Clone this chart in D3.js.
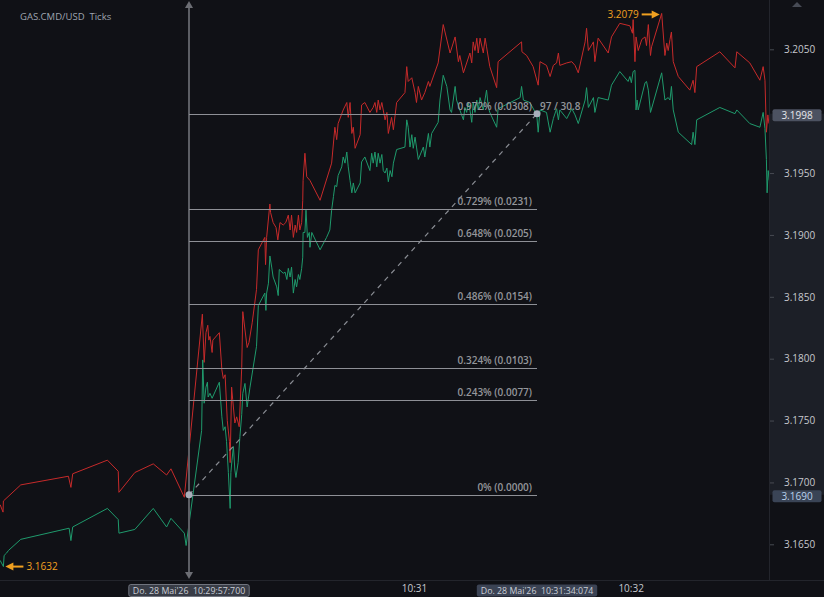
<!DOCTYPE html>
<html><head><meta charset="utf-8">
<script src="https://cdn.jsdelivr.net/npm/d3@7"></script>
<style>html,body{margin:0;padding:0;background:#101116;overflow:hidden}</style>
</head><body>
<svg id="c" width="824" height="597"></svg>
<script>
// ---------- data ----------
const chartTitle = "GAS.CMD/USD  Ticks";
// [seconds after 10:29:00, price]
const askTicks = [[5.4,3.1682],[6.2,3.1676],[6.3,3.1685],[11.1,3.1698],[24.3,3.1705],[25.0,3.1696],[25.5,3.1707],[35.1,3.1718],[38.1,3.1709],[38.3,3.1692],[42.7,3.1708],[47.8,3.1715],[51.5,3.1706],[52.7,3.1711],[56.4,3.1688],
[61.4,3.1836],[61.9,3.1797],[62.4,3.1821],[62.9,3.1827],[63.2,3.1815],[63.5,3.1818],[64.1,3.1805],[64.3,3.1815],[66.1,3.1821],[66.8,3.1791],[67.2,3.1784],[67.7,3.1787],[68.3,3.1750],[68.9,3.1733],[69.1,3.1716],[69.5,3.1777],[69.8,3.1767],[70.4,3.1748],[70.9,3.1753],[71.6,3.1745],[72.3,3.1793],[72.6,3.1838],[73.8,3.1809],[74.3,3.1813],[75.2,3.1829],[76.4,3.1856],[76.9,3.1888],[78.7,3.1898],[78.9,3.1876],[79.2,3.1898],[80.1,3.1925],[80.3,3.1918],[81.0,3.1910],[81.8,3.1906],[82.3,3.1896],[82.9,3.1910],[83.8,3.1908],[84.5,3.1910],[85.2,3.1916],[85.7,3.1904],[86.1,3.1916],[86.6,3.1898],[87.1,3.1908],[87.5,3.1902],[88.0,3.1916],[88.4,3.1904],[88.9,3.1910],[89.2,3.1928],[89.3,3.1944],[89.8,3.1966],[90.3,3.1947],[91.2,3.1944],[94.0,3.1928],[97.2,3.1958],[98.1,3.1987],[98.6,3.1977],[99.0,3.1990],[100.4,3.2001],[101.4,3.2007],[101.8,3.1995],[102.3,3.2007],[102.8,3.1982],[103.2,3.1987],[103.7,3.1970],[105.1,3.1981],[105.5,3.2005],[106.4,3.2007],[107.8,3.1999],[108.7,3.2003],[109.2,3.2007],[109.7,3.1999],[110.1,3.2009],[110.6,3.2001],[111.1,3.2007],[112.0,3.1993],[112.5,3.1999],[112.9,3.1982],[113.8,3.1995],[114.3,3.1985],[115.2,3.2007],[117.5,3.2015],[118.0,3.2036],[118.4,3.2024],[119.4,3.2027],[120.3,3.2015],[120.7,3.2007],[121.2,3.2020],[122.1,3.2009],[123.0,3.2015],[124.0,3.2024],[124.4,3.2020],[126.7,3.2039],[128.1,3.2070],[130.0,3.2047],[131.4,3.2060],[132.3,3.2040],[132.7,3.2045],[133.7,3.2031],[135.5,3.2047],[136.0,3.2039],[136.4,3.2056],[136.9,3.2049],[137.4,3.2059],[137.8,3.2047],[138.3,3.2059],[139.2,3.2047],[139.7,3.2059],[140.1,3.2052],[141.0,3.2036],[142.9,3.2019],[143.3,3.2040],[149.8,3.2056],[149.9,3.2048],[151.2,3.2045],[153.0,3.2036],[154.4,3.2021],[154.9,3.2040],[156.7,3.2037],[157.7,3.2028],[158.6,3.2037],[159.5,3.2039],[160.0,3.2047],[160.4,3.2037],[162.3,3.2039],[163.7,3.2040],[164.6,3.2037],[165.5,3.2031],[167.4,3.2056],[167.8,3.2067],[168.3,3.2049],[169.7,3.2056],[170.1,3.2040],[171.0,3.2059],[173.8,3.2047],[174.7,3.2060],[177.0,3.2071],[179.8,3.2069],[180.5,3.2063],[180.7,3.2074],[181.2,3.2040],[181.5,3.2060],[182.1,3.2049],[183.1,3.2058],[184.0,3.2060],[184.4,3.2053],[184.9,3.2070],[185.5,3.2045],[185.8,3.2052],[188.6,3.2079],[189.5,3.2045],[190.0,3.2055],[190.4,3.2049],[190.9,3.2058],[191.3,3.2064],[191.8,3.2040],[193.2,3.2028],[196.4,3.2017],[197.3,3.2025],[197.8,3.2015],[198.3,3.2036],[204.7,3.2048],[208.9,3.2035],[209.4,3.2048],[213.0,3.2039],[215.8,3.2025],[216.7,3.2036],[217.2,3.2025],[217.6,3.1983],[218.0,3.1997],[218.3,3.1990]];
const bidTicks = [[5.4,3.1637],[6.3,3.1632],[6.5,3.1641],[7.2,3.1643],[7.7,3.1645],[11.1,3.1654],[24.5,3.1663],[25.0,3.1653],[25.5,3.1664],[35.1,3.1679],[38.1,3.1670],[38.3,3.1659],[42.7,3.1662],[47.8,3.1679],[51.5,3.1664],[52.7,3.1671],[56.4,3.1659],[56.9,3.1649],
[61.2,3.1742],[61.5,3.1799],[61.9,3.1764],[62.4,3.1777],[62.8,3.1781],[63.0,3.1769],[63.5,3.1772],[64.1,3.1768],[66.1,3.1781],[66.8,3.1753],[67.2,3.1742],[67.7,3.1745],[68.1,3.1733],[68.6,3.1708],[69.1,3.1679],[69.3,3.1708],[69.6,3.1718],[70.0,3.1729],[70.4,3.1710],[70.7,3.1704],[71.3,3.1716],[71.8,3.1737],[72.3,3.1755],[72.6,3.1772],[73.2,3.1780],[73.8,3.1761],[74.6,3.1777],[76.4,3.1810],[76.9,3.1843],[78.7,3.1853],[79.0,3.1839],[79.2,3.1853],[79.7,3.1861],[80.1,3.1883],[80.6,3.1874],[81.0,3.1866],[82.0,3.1858],[82.4,3.1851],[82.7,3.1872],[83.8,3.1869],[84.3,3.1870],[84.8,3.1864],[85.2,3.1873],[85.7,3.1866],[86.1,3.1874],[86.6,3.1853],[87.1,3.1864],[87.5,3.1858],[88.0,3.1868],[88.4,3.1864],[88.9,3.1873],[89.2,3.1882],[89.3,3.1902],[89.8,3.1902],[90.1,3.1920],[90.5,3.1898],[91.0,3.1902],[91.2,3.1890],[91.7,3.1902],[94.0,3.1888],[95.8,3.1898],[96.7,3.1904],[97.2,3.1920],[97.7,3.1931],[98.1,3.1940],[98.6,3.1939],[99.0,3.1948],[100.0,3.1955],[100.4,3.1963],[100.9,3.1958],[101.4,3.1967],[101.8,3.1955],[102.3,3.1944],[102.8,3.1934],[103.2,3.1942],[103.7,3.1934],[105.1,3.1942],[105.5,3.1959],[106.4,3.1963],[107.8,3.1952],[108.3,3.1966],[108.7,3.1958],[109.2,3.1967],[109.7,3.1955],[110.1,3.1966],[110.6,3.1958],[111.1,3.1965],[111.5,3.1952],[112.0,3.1950],[112.5,3.1954],[112.9,3.1943],[113.4,3.1952],[113.9,3.1947],[114.3,3.1958],[115.2,3.1969],[117.5,3.1971],[118.0,3.1993],[118.4,3.1987],[118.9,3.1971],[119.4,3.1981],[119.8,3.1970],[120.3,3.1979],[120.7,3.1971],[121.2,3.1961],[122.6,3.1971],[123.0,3.1963],[124.0,3.1982],[124.4,3.1971],[124.9,3.1982],[126.7,3.1991],[127.2,3.2009],[128.1,3.2029],[129.1,3.2020],[130.0,3.2001],[130.4,3.1999],[131.4,3.2020],[131.8,3.2009],[132.7,3.2001],[133.7,3.1993],[134.1,3.2003],[134.6,3.1999],[135.0,3.2007],[135.5,3.2001],[136.0,3.1991],[136.4,3.2007],[136.9,3.1999],[137.4,3.2009],[137.8,3.2001],[138.3,3.2011],[139.2,3.2001],[140.1,3.2017],[140.6,3.2003],[141.0,3.1999],[142.9,3.1987],[143.3,3.2002],[149.4,3.2011],[149.8,3.2020],[150.3,3.2009],[152.1,3.2007],[154.0,3.1997],[154.4,3.1983],[154.9,3.2001],[156.7,3.1999],[157.7,3.1983],[158.6,3.1994],[159.5,3.2002],[160.0,3.1993],[160.4,3.2001],[162.3,3.1994],[163.7,3.2002],[164.6,3.1997],[165.5,3.1990],[167.4,3.2009],[167.8,3.2019],[168.3,3.2003],[169.7,3.2011],[170.1,3.1999],[171.0,3.2011],[173.8,3.2009],[174.7,3.2021],[177.0,3.2032],[179.3,3.2024],[179.8,3.2028],[180.2,3.2023],[180.7,3.2032],[181.2,3.2033],[181.5,3.2001],[181.8,3.2009],[182.1,3.2001],[184.0,3.2023],[184.4,3.2024],[184.9,3.2017],[185.5,3.1999],[188.6,3.2031],[189.5,3.2009],[190.4,3.2011],[190.9,3.2009],[191.3,3.2020],[191.8,3.2001],[193.2,3.1983],[196.9,3.1973],[197.3,3.1983],[197.8,3.1973],[198.3,3.1993],[204.7,3.2003],[208.9,3.1998],[209.4,3.2001],[213.0,3.1990],[215.8,3.1987],[216.7,3.1999],[217.2,3.1986],[217.6,3.1961],[217.8,3.1934],[218.1,3.1952],[218.4,3.1944]];

const yTickValues = [3.1650, 3.1700, 3.1750, 3.1800, 3.1850, 3.1900, 3.1950, 3.2050];
const xTickValues = [120, 180];
const xTickLabels = ["10:31", "10:32"];
const timeDomain = [5.36, 218.32];
const priceDomain = [3.1650, 3.2050];

const fibStartTime = 57.7, fibEndTime = 154.074;
const fibLow = 3.1690, fibHigh = 3.1998;
const fibRatios = [1, 0.75, 0.667, 0.5, 0.333, 0.25, 0];
const fibLabels = ["0.972% (0.0308)", "0.729% (0.0231)", "0.648% (0.0205)", "0.486% (0.0154)", "0.324% (0.0103)", "0.243% (0.0077)", "0% (0.0000)"];
const fibInfoText = "97 / 30.8";
const timeBoxLabels = ["Do. 28 Mai'26  10:29:57:700", "Do. 28 Mai'26  10:31:34:074"];
const priceBoxLabels = ["3.1998", "3.1690"];
const maxMark = [188.6, 3.2079], minMark = [6.3, 3.1632];
const maxLabel = "3.2079", minLabel = "3.1632";

// ---------- drawing ----------
const W = 824, H = 597, plotW = 769, plotH = 580;
const svg = d3.select("#c");
const FONT = "'Open Sans', 'Noto Sans', sans-serif";
const x = d3.scaleLinear().domain(timeDomain).range([0, plotW]);
const y = d3.scaleLinear().domain(priceDomain).range([544.3, 49.3]);

svg.append("rect").attr("width", W).attr("height", H).attr("fill", "#101116");
// axis highlight band
svg.append("rect").attr("x", plotW + 1).attr("width", W - plotW - 1)
  .attr("y", y(fibHigh)).attr("height", y(fibLow) - y(fibHigh)).attr("fill", "#1c1f27");

// separators
svg.append("line").attr("x1", plotW + 0.5).attr("x2", plotW + 0.5).attr("y1", 0).attr("y2", plotH)
  .attr("stroke", "#23252c");
svg.append("line").attr("x1", 0).attr("x2", W).attr("y1", plotH + 0.5).attr("y2", plotH + 0.5)
  .attr("stroke", "#23252c");

svg.append("defs").append("clipPath").attr("id", "clip")
  .append("rect").attr("width", plotW).attr("height", plotH);

const plot = svg.append("g").attr("clip-path", "url(#clip)");
const line = d3.line().x(d => x(d[0])).y(d => y(d[1]));

plot.append("path").datum(askTicks).attr("d", line).attr("fill", "none")
  .attr("stroke", "#c62a2a").attr("stroke-width", 1);
plot.append("path").datum(bidTicks).attr("d", line).attr("fill", "none")
  .attr("stroke", "#1f9a6c").attr("stroke-width", 1);

// vertical cursor line at fib start
const xs = Math.round(x(fibStartTime));
svg.append("line").attr("x1", xs).attr("x2", xs).attr("y1", 6).attr("y2", 574)
  .attr("stroke", "#5c5e64").attr("stroke-width", 2);
svg.append("path").attr("d", `M${xs-4},8 L${xs},1 L${xs+4},8 Z`).attr("fill", "#6c6e74");
svg.append("path").attr("d", `M${xs-4},572 L${xs},579 L${xs+4},572 Z`).attr("fill", "#6c6e74");

// fib levels
const fx1 = x(fibStartTime), fx2 = x(fibEndTime);
const fibG = svg.append("g");
fibRatios.forEach((r, i) => {
  const p = fibLow + r * (fibHigh - fibLow);
  const yy = Math.round(y(p)) + 0.5;
  fibG.append("line").attr("x1", fx1).attr("x2", fx2).attr("y1", yy).attr("y2", yy)
    .attr("stroke", "#8e9096").attr("stroke-width", 1);
  fibG.append("text").attr("x", fx2 - 5).attr("y", yy - 5).attr("text-anchor", "end")
    .attr("font-family", FONT).attr("font-size", 10).attr("font-weight", 600)
    .attr("fill", "#94969b").text(fibLabels[i]);
});
fibG.append("line").attr("x1", fx1).attr("y1", y(fibLow)).attr("x2", fx2).attr("y2", y(fibHigh))
  .attr("stroke", "#8a8d94").attr("stroke-width", 1.2).attr("stroke-dasharray", "5,5");
[[fibStartTime, fibLow], [fibEndTime, fibHigh]].forEach(d => {
  fibG.append("circle").attr("cx", x(d[0])).attr("cy", y(d[1])).attr("r", 3.5).attr("fill", "#a9afbb");
});
fibG.append("text").attr("x", fx2 + 3).attr("y", Math.round(y(fibHigh)) - 4.5)
  .attr("font-family", FONT).attr("font-size", 10).attr("font-weight", 600)
  .attr("fill", "#94969b").style("white-space", "pre").text(fibInfoText);

// right axis
const yAxis = d3.axisRight(y).tickValues(yTickValues).tickSize(4).tickPadding(10)
  .tickFormat(d3.format(".4f"));
const ya = svg.append("g").attr("transform", `translate(${plotW + 1},0)`).call(yAxis);
ya.select(".domain").remove();
ya.selectAll(".tick line").attr("stroke", "#474a52");
ya.selectAll(".tick text").attr("fill", "#c6c8cd").attr("font-family", FONT).attr("font-size", 10);

// price boxes
[[fibHigh, "#4c5261", "#e6e8ec"], [fibLow, "#3a4456", "#b9d1ec"]].forEach((d, i) => {
  const yy = y(d[0]);
  svg.append("rect").attr("x", 772.5).attr("y", yy - 4.5).attr("width", 49).attr("height", 12)
    .attr("rx", 2).attr("fill", d[1]);
  svg.append("text").attr("x", 797).attr("y", yy + 5.2).attr("text-anchor", "middle")
    .attr("font-family", FONT).attr("font-size", 10).attr("fill", d[2]).text(priceBoxLabels[i]);
});

// top-right small triangle
svg.append("path").attr("d", "M792,7 L797,2 L802,7 Z").attr("fill", "#474b55");

// bottom axis
const xAxis = d3.axisBottom(x).tickValues(xTickValues).tickSize(0).tickPadding(5)
  .tickFormat((d, i) => xTickLabels[i]);
const xa = svg.append("g").attr("transform", `translate(0,${plotH})`).call(xAxis);
xa.select(".domain").remove();
xa.selectAll(".tick text").attr("fill", "#c6c8cd").attr("font-family", FONT).attr("font-size", 10);

// time boxes
[[fibStartTime, "#383c46", "#70747e"], [fibEndTime, "#3b4354", null]].forEach((d, i) => {
  const cx = x(d[0]);
  const t = svg.append("text").attr("x", cx).attr("y", 593.5).attr("text-anchor", "middle")
    .attr("font-family", FONT).attr("font-size", 8.8).attr("fill", "#c9cdd5")
    .style("white-space", "pre").text(timeBoxLabels[i]);
  const bb = t.node().getBBox();
  svg.insert("rect", () => t.node()).attr("x", bb.x - 4).attr("y", 584.5).attr("width", bb.width + 8)
    .attr("height", 12).attr("rx", 2).attr("fill", d[1])
    .attr("stroke", d[2] || "none").attr("stroke-width", 1);
});

// title
svg.append("text").attr("x", 20).attr("y", 20).attr("font-family", FONT).attr("font-size", 9.5)
  .attr("fill", "#9fa5b0").style("white-space", "pre").text(chartTitle);

// max / min markers
const orange = "#f0a020";
const mx = x(maxMark[0]), my = y(maxMark[1]);
svg.append("line").attr("x1", mx - 20).attr("x2", mx - 8).attr("y1", my + 1).attr("y2", my + 1)
  .attr("stroke", orange).attr("stroke-width", 2);
svg.append("path").attr("d", `M${mx-10},${my-3} L${mx-2},${my+1} L${mx-10},${my+5} Z`).attr("fill", orange);
svg.append("text").attr("x", mx - 23).attr("y", my + 4.5).attr("text-anchor", "end")
  .attr("font-family", FONT).attr("font-size", 10).attr("fill", orange).text(maxLabel);

const nx = x(minMark[0]), ny = y(minMark[1]);
svg.append("line").attr("x1", nx + 8).attr("x2", nx + 20).attr("y1", ny).attr("y2", ny)
  .attr("stroke", orange).attr("stroke-width", 2);
svg.append("path").attr("d", `M${nx+10},${ny-4} L${nx+2},${ny} L${nx+10},${ny+4} Z`).attr("fill", orange);
svg.append("text").attr("x", nx + 23).attr("y", ny + 3.5)
  .attr("font-family", FONT).attr("font-size", 10).attr("fill", orange).text(minLabel);
</script>
</body></html>
